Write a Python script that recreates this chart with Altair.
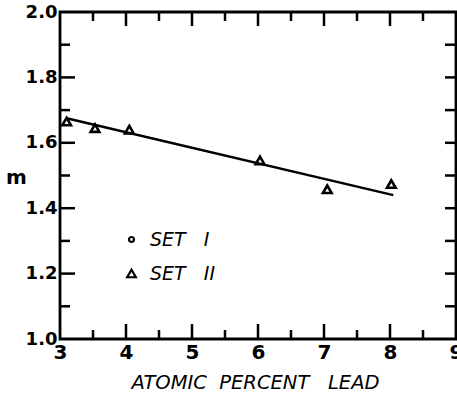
import altair as alt
import pandas as pd

# ---- data ----
lead = [3.1, 3.53, 4.05, 6.03, 7.05, 8.02]
m_vals = [1.665, 1.645, 1.64, 1.546, 1.458, 1.474]
fit_lead = [3.1, 8.05]
fit_m = [1.675, 1.44]
series = ["SET\u00a0\u00a0\u00a0I", "SET\u00a0\u00a0\u00a0II"]
x_labels = [3, 4, 5, 6, 7, 8, 9]
y_labels = [1.0, 1.2, 1.4, 1.6, 1.8, 2.0]
x_major = [4, 5, 6, 7, 8]
x_minor = [3.5, 4.5, 5.5, 6.5, 7.5, 8.5]
y_major = [1.2, 1.4, 1.6, 1.8]
y_minor = [1.1, 1.3, 1.5, 1.7, 1.9]

W, H = 396, 327
FONT = "DejaVu Sans"

xs = alt.Scale(domain=[3, 9], nice=False, zero=False)
ys = alt.Scale(domain=[1, 2], nice=False, zero=False)

pts = pd.DataFrame({"lead": lead, "m": m_vals, "set": [series[1]] * len(lead)})
fit = pd.DataFrame({"lead": fit_lead, "m": fit_m})

x_axis = alt.Axis(values=x_labels, format="d", title="ATOMIC\u00a0\u00a0PERCENT\u00a0\u00a0\u00a0LEAD",
                  ticks=False, domain=False, grid=False, labelFlush=False, labelOverlap=False,
                  labelFont=FONT, labelFontSize=20, labelFontWeight="bold", labelColor="black",
                  labelPadding=3, titleFont=FONT, titleFontSize=19.5, titleFontStyle="italic",
                  titleFontWeight="normal", titleColor="black", titleX=195, titleY=49,
                  titleBaseline="alphabetic", titleAlign="center")
y_axis = alt.Axis(values=y_labels, format=".1f", title="m", titleAngle=0,
                  ticks=False, domain=False, grid=False, labelFlush=False, labelOverlap=False,
                  labelFont=FONT, labelFontSize=18, labelFontWeight="bold", labelColor="black",
                  labelPadding=3, titleFont=FONT, titleFontSize=20, titleFontWeight="bold",
                  titleColor="black", titleX=-44, titleY=171, titleBaseline="alphabetic",
                  titleAlign="center")

line = alt.Chart(fit).mark_line(color="black", strokeWidth=2.5).encode(
    x=alt.X("lead:Q", scale=xs, axis=x_axis),
    y=alt.Y("m:Q", scale=ys, axis=y_axis),
)

leg = alt.Legend(orient="none", legendX=62, legendY=218, padding=0, rowPadding=14,
                 labelOffset=9, labelFont=FONT, labelFontSize=19, labelFontStyle="italic",
                 labelColor="black", symbolStrokeColor="black", symbolStrokeWidth=2.2,
                 title=None)

points = alt.Chart(pts).mark_point(filled=False, color="black", strokeWidth=2.6, opacity=1).encode(
    x=alt.X("lead:Q", scale=xs, axis=x_axis),
    y=alt.Y("m:Q", scale=ys, axis=y_axis),
    shape=alt.Shape("set:N", scale=alt.Scale(domain=series, range=["circle", "triangle-up"]), legend=leg),
    size=alt.Size("set:N", scale=alt.Scale(domain=series, range=[25, 75]), legend=leg),
)


def vticks(vals, y0, y1):
    return alt.Chart(pd.DataFrame({"v": vals})).mark_rule(color="black", strokeWidth=2.5).encode(
        x=alt.X("v:Q", scale=xs, axis=x_axis), y=alt.value(y0), y2=alt.value(y1))


def hticks(vals, x0, x1):
    return alt.Chart(pd.DataFrame({"v": vals})).mark_rule(color="black", strokeWidth=2.5).encode(
        y=alt.Y("v:Q", scale=ys, axis=y_axis), x=alt.value(x0), x2=alt.value(x1))


ticks = [
    vticks(x_major, H, H - 15), vticks(x_minor, H, H - 9),
    vticks(x_major, 0, 14), vticks(x_minor, 0, 9),
    hticks(y_major, 0, 15), hticks(y_minor, 0, 10),
    hticks(y_major + y_minor, W - 11, W),
]

chart = alt.layer(line, *ticks, points).properties(
    width=W, height=H,
    padding={"left": 60, "top": 12, "right": 1, "bottom": 54},
    autosize=alt.AutoSizeParams(type="none"),
    background="white",
).configure_view(stroke="black", strokeWidth=2.8)

chart.save("out.html", embed_options={"renderer": "svg", "actions": False})
